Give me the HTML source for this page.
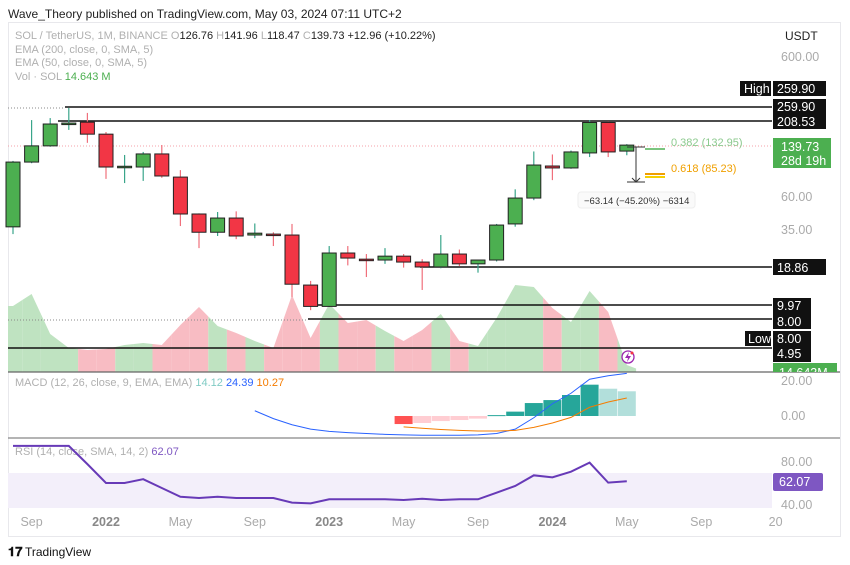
<!DOCTYPE html>
<html><head><meta charset="utf-8"><style>
body{margin:0;background:#fff;font-family:"Liberation Sans",sans-serif;}
svg{display:block}
</style></head><body>
<svg id="c" width="850" height="565" xmlns="http://www.w3.org/2000/svg" font-family="Liberation Sans, sans-serif">
<text x="8" y="18" font-size="12" fill="#222">Wave_Theory published on TradingView.com, May 03, 2024 07:11 UTC+2</text>
<rect x="8.5" y="22.5" width="832" height="514" fill="none" stroke="#e8e8ec"/>
<g font-size="11">
<text x="15" y="39" fill="#b0b0b0">SOL / TetherUS, 1M, BINANCE  <tspan fill="#b0b0b0">O</tspan><tspan fill="#222">126.76</tspan> <tspan fill="#b0b0b0"> H</tspan><tspan fill="#222">141.96</tspan> <tspan fill="#b0b0b0"> L</tspan><tspan fill="#222">118.47</tspan> <tspan fill="#b0b0b0"> C</tspan><tspan fill="#222">139.73  +12.96 (+10.22%)</tspan></text>
<text x="15" y="53" fill="#b0b0b0">EMA (200, close, 0, SMA, 5)</text>
<text x="15" y="66" fill="#b0b0b0">EMA (50, close, 0, SMA, 5)</text>
<text x="15" y="80" fill="#b0b0b0">Vol · SOL  <tspan fill="#4caf50">14.643 M</tspan></text>
</g>
<g id="vol"></g>
<g id="lines">
<line x1="8" y1="108" x2="65" y2="108" stroke="#888" stroke-dasharray="1,2"/>
<line x1="8" y1="320" x2="308" y2="320" stroke="#888" stroke-dasharray="1,2"/>
<line x1="8" y1="146" x2="772" y2="146" stroke="#f4a0a8" stroke-dasharray="1,2"/>
<line x1="65" y1="107" x2="772" y2="107" stroke="#111" stroke-width="1.5"/>
<line x1="58" y1="121" x2="772" y2="121" stroke="#111" stroke-width="1.5"/>
<line x1="420" y1="267" x2="772" y2="267" stroke="#111" stroke-width="1.5"/>
<line x1="308" y1="305" x2="772" y2="305" stroke="#111" stroke-width="1.5"/>
<line x1="308" y1="319" x2="772" y2="319" stroke="#111" stroke-width="1.5"/>
<line x1="8" y1="348" x2="772" y2="348" stroke="#111" stroke-width="1.5"/>
</g>
<g id="candles"></g>
<g>
<line x1="645" y1="149" x2="665" y2="149" stroke="#7cc47f" stroke-width="2"/>
<line x1="645" y1="174" x2="665" y2="174" stroke="#f0a000" stroke-width="2"/>
<line x1="645" y1="177" x2="665" y2="177" stroke="#f5d000" stroke-width="2"/>
<text x="671" y="146" font-size="11" fill="#8cc98e">0.382 (132.95)</text>
<text x="671" y="172" font-size="11" fill="#f0a000">0.618 (85.23)</text>
<line x1="627" y1="147" x2="645" y2="147" stroke="#333"/>
<line x1="636" y1="147" x2="636" y2="182" stroke="#333"/>
<line x1="627" y1="182" x2="645" y2="182" stroke="#333"/>
<path d="M632,178 L636,182 L640,178" fill="none" stroke="#333"/>
<rect x="578" y="192" width="117" height="16" rx="3" fill="#fafafa" stroke="#eee"/>
<text x="584" y="204" font-size="9.5" fill="#333">−63.14 (−45.20%) −6314</text>
</g>
<g><circle cx="628" cy="357" r="6" fill="#fff" stroke="#9c27b0" stroke-width="1.3"/><path d="M629,352 L625,358 L628,358 L627,362 L631,356 L628,356 Z" fill="#9c27b0"/><circle cx="632" cy="353" r="1.5" fill="#f23645"/></g>
<line x1="8" y1="372" x2="840" y2="372" stroke="#666" stroke-width="1.2"/>
<line x1="8" y1="438" x2="840" y2="438" stroke="#888" stroke-width="1.2"/>
<g id="axis" font-size="12.5">
<text x="785" y="40" fill="#222" font-size="12">USDT</text>
<text x="781" y="61" fill="#aaa">600.00</text>
<text x="781" y="201" fill="#aaa">60.00</text>
<text x="781" y="234" fill="#aaa">35.00</text>
<rect x="740" y="81" width="31" height="15" fill="#111"/><text x="744" y="93" fill="#fff">High</text>
<rect x="773" y="81" width="53" height="15" fill="#111"/><text x="777" y="93" fill="#fff">259.90</text>
<rect x="773" y="99" width="53" height="15" fill="#111"/><text x="777" y="111" fill="#fff">259.90</text>
<rect x="773" y="114" width="53" height="15" fill="#111"/><text x="777" y="126" fill="#fff">208.53</text>
<rect x="773" y="138" width="58" height="30" fill="#4caf50"/><text x="781" y="151" fill="#fff">139.73</text><text x="781" y="165" fill="#fff">28d 19h</text>
<rect x="773" y="259" width="53" height="16" fill="#111"/><text x="777" y="272" fill="#fff">18.86</text>
<rect x="773" y="298" width="38" height="15" fill="#111"/><text x="777" y="310" fill="#fff">9.97</text>
<rect x="773" y="313" width="38" height="16" fill="#111"/><text x="777" y="326" fill="#fff">8.00</text>
<rect x="745" y="331" width="26" height="15" fill="#111"/><text x="748" y="343" fill="#fff">Low</text>
<rect x="773" y="331" width="38" height="15" fill="#111"/><text x="777" y="343" fill="#fff">8.00</text>
<rect x="773" y="346" width="38" height="16" fill="#111"/><text x="777" y="358" fill="#fff">4.95</text>
<svg x="773" y="363" width="64" height="9"><rect width="64" height="9" fill="#4caf50"/><text x="6" y="14" fill="#fff">14.643M</text></svg>
<text x="781" y="385" fill="#aaa">20.00</text>
<text x="781" y="420" fill="#aaa">0.00</text>
<text x="781" y="466" fill="#aaa">80.00</text>
<text x="781" y="509" fill="#aaa">40.00</text>
<rect x="773" y="473" width="50" height="18" rx="2" fill="#7e57c2"/><text x="779" y="486" fill="#fff">62.07</text>
</g>
<g font-size="11"><text x="15" y="386" fill="#b0b0b0">MACD (12, 26, close, 9, EMA, EMA) <tspan fill="#80cbc4">14.12</tspan> <tspan fill="#2962ff">24.39</tspan> <tspan fill="#f57c00">10.27</tspan></text></g>
<g font-size="11"><text x="15" y="455" fill="#b0b0b0">RSI (14, close, SMA, 14, 2) <tspan fill="#7e57c2">62.07</tspan></text></g>
<rect x="8" y="473" width="764" height="35" fill="#f3effa"/>
<g id="macd"></g>
<g id="rsi"></g>
<g id="time" font-size="12.5"></g>
<g><text x="8" y="556" font-size="13" font-weight="bold" fill="#111">𝟏𝟕</text><text x="25" y="556" font-size="12" fill="#111">TradingView</text></g>
</svg>
<script>
const opens=[36.9,106,138,198,203,167,98.5,97.8,121,83,45.5,33.8,42.6,32.3,32.8,32.3,14.3,10.1,24.1,21.8,21.5,22.9,20.8,19.2,23.7,20.2,21.5,38.7,59,99.4,96.3,123,202,126.76];
const highs=[108,210,217,256,236,173,119,125,140,93,46,47,47.5,39,33.8,38.7,15.3,27,27,23.7,26.1,23.7,21.8,32.3,25.5,21.5,38.7,68,126,120,128,210,205,141.96];
const lows=[32.8,104,136,179,145,80.6,75.3,78,82,37.4,26.1,31.8,30.2,30.7,27,11.8,9.5,10,19.7,16.3,20.2,19,13.2,18.8,19.5,17.5,21,37,57,79,95,115,115,118.47];
const closes=[106,138,197,200,167,97.8,99,121,84.5,45.5,33.8,42.6,31.8,33.3,32.5,14.5,10.1,24.1,22.2,21.5,22.9,20.8,19.2,23.7,20.2,21.5,38,59,101,96.3,125,202,125,139.73];
const volumes=[66,78,38,24,22,23,27,29,27,47,65,46,39,31,24,77,34,68,49,52,41,31,42,58,31,26,54,87,85,64,50,81,60,7];
const macdStart=13;
const macdLine=[3,-1.5,-5,-7.5,-8.8,-9.5,-10,-10.5,-10.8,-11,-11,-11,-10.8,-10,-7.5,-1,7,13,21,23,24.39];
const sigStart=21;
const signalLine=[-6.2,-7,-7.7,-8.2,-8.6,-8.6,-8.2,-6.5,-4,-0.8,5,8,10.27];
const histStart=21;
const hist=[-4.6,-4,-2.9,-2.3,-1.5,0.5,2.5,7.4,9.1,12,17.9,15.6,14.12];
const rsi=[95,95,95,95,78,60.5,60.5,64,55.8,47.7,46.5,47.7,46.5,46.5,46.5,42.2,41.5,45.3,45.3,45.3,45.3,44.6,45.8,44.6,45.3,45.3,51.5,57.7,67.6,65.7,71,79.4,60.8,62.07];
const timeLabels=["Sep","2022","May","Sep","2023","May","Sep","2024","May","Sep","20"];
const timeIdx=[1,5,9,13,17,21,25,29,33,37,41];

const NS="http://www.w3.org/2000/svg";
const X=i=>13+18.6*i;
const Y=p=>107-61.4*Math.log(p/259.9);
const VY=v=>372-v;
const MY=v=>416-1.75*v;
const RY=v=>462-1.075*(v-80);
function mk(tag,attrs,parent){const e=document.createElementNS(NS,tag);for(const k in attrs)e.setAttribute(k,attrs[k]);parent.appendChild(e);return e;}
const G=id=>document.getElementById(id);

const vg=G('vol');
for(let i=0;i<volumes.length;i++){
  const up=closes[i]>=opens[i];
  const xl=X(i)-9.3, xr=X(i)+9.3;
  const vl=i>0?(volumes[i-1]+volumes[i])/2:volumes[i];
  const vr=i<volumes.length-1?(volumes[i]+volumes[i+1])/2:volumes[i]/2;
  const pts=`${Math.max(8,xl)},372 ${Math.max(8,xl)},${VY(vl)} ${X(i)},${VY(volumes[i])} ${xr},${VY(vr)} ${xr},372`;
  const p=mk('polygon',{points:pts,fill:up?'#bfe3c1':'#f8bcc3'},vg);
  
  
}
const cg=G('candles');
for(let i=0;i<opens.length;i++){
  const up=closes[i]>=opens[i];
  const x=X(i);
  const w=mk('line',{x1:x,x2:x,y1:Y(highs[i]),y2:Y(lows[i]),stroke:up?'#3aa58a':'#f0707c','stroke-width':1.2},cg);
  
  
  const t=Y(Math.max(opens[i],closes[i])), b=Y(Math.min(opens[i],closes[i]));
  const r=mk('rect',{x:x-7,y:t,width:14,height:Math.max(1.5,b-t),fill:up?'#4caf50':'#f23645',stroke:'#222','stroke-width':1},cg);
  
  
}
const mg=G('macd');
for(let k=0;k<hist.length;k++){
  const i=histStart+k,v=hist[k],prev=k>0?hist[k-1]:0;
  let col=v>=0?(v>=prev?'#26a69a':'#b2dfdb'):(v<=prev?'#ff5252':'#ffcdd2');
  const y1=MY(Math.max(v,0)),y2=MY(Math.min(v,0));
  const r=mk('rect',{x:X(i)-9,y:y1,width:18,height:Math.max(1,y2-y1),fill:col},mg);
  
  
}
const ml=mk('polyline',{points:macdLine.map((v,k)=>X(macdStart+k)+','+MY(v)).join(' '),fill:'none',stroke:'#2962ff','stroke-width':1},mg);


const sl=mk('polyline',{points:signalLine.map((v,k)=>X(sigStart+k)+','+MY(v)).join(' '),fill:'none',stroke:'#f57c00','stroke-width':1},mg);


const rl=mk('polyline',{points:rsi.map((v,i)=>X(i)+','+RY(v)).join(' '),fill:'none',stroke:'#673ab7','stroke-width':2},G('rsi'));


const tg=G('time');
timeLabels.forEach((s,k)=>{
  const yr=/^20\d\d$/.test(s);
  const t=mk('text',{x:X(timeIdx[k]),y:526,'text-anchor':'middle',fill:yr?'#888':'#aaa','font-weight':yr?'bold':'normal'},tg);
  t.textContent=s;
  
  
});
</script>
</body></html>
